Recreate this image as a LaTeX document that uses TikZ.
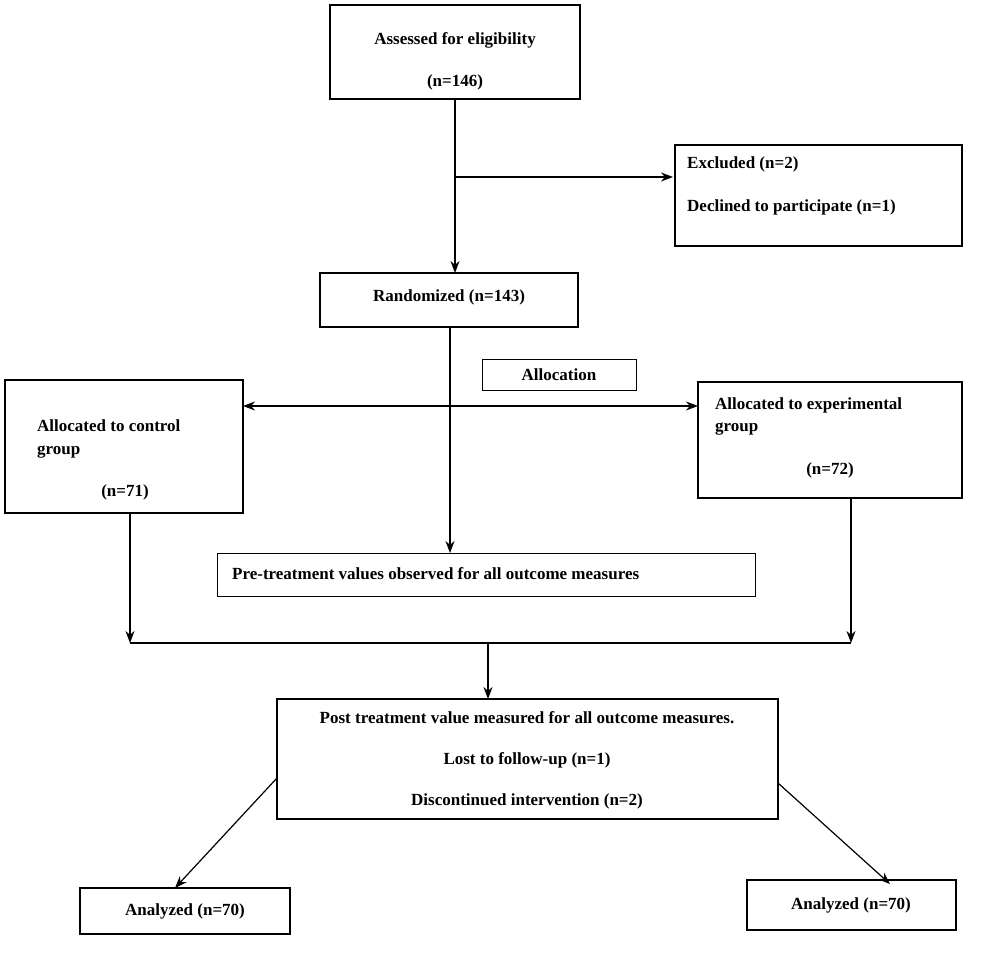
\documentclass[tikz,border=0pt]{standalone}
\usepackage{fontspec}
\setmainfont{Liberation Serif}
\usetikzlibrary{arrows.meta}
\begin{document}
\begin{tikzpicture}[x=1pt,y=-1pt,
  box/.style={draw,line width=1.6pt},
  t/.style={font=\bfseries\fontsize{17}{20}\selectfont,inner sep=0pt},
  arr/.style={-{Stealth[length=12pt,width=9pt]},line width=1.2pt},
  ln/.style={line width=1.2pt}]
\useasboundingbox (0,0) rectangle (986,965);
\draw[box] (330,5) rectangle (580,99);
\node[t] (ass1) at (455,40) {Assessed for eligibility};
\node[t] (ass2) at (455,82) {(n=146)};
\coordinate (assB) at (455,99);
\draw[box] (675,145) rectangle (962,246);
\node[t,anchor=west] (exc1) at (687,164) {Excluded (n=2)};
\node[t,anchor=west] (exc2) at (687,207) {Declined to participate (n=1)};
\coordinate (excL) at (673,177);
\draw[box] (320,273) rectangle (578,327);
\node[t] (rand) at (449,297) {Randomized (n=143)};
\coordinate (randT) at (455,273);
\coordinate (randB) at (450,327);
\draw[box,line width=1pt] (482,360) rectangle (636,391);
\node[t] (alloc) at (559,375) {Allocation};
\draw[box] (5,380) rectangle (243,513);
\node[t,anchor=west] (c1) at (37,426) {Allocated to control};
\node[t,anchor=west] (c2) at (37,452) {group};
\node[t] (c3) at (125,492) {(n=71)};
\draw[box] (698,382) rectangle (962,498);
\node[t,anchor=west] (e1) at (715,405) {Allocated to experimental};
\node[t,anchor=west] (e2) at (715,429) {group};
\node[t] (e3) at (830,470) {(n=72)};
\draw[box,line width=1pt] (217,553) rectangle (755,596);
\node[t,anchor=west] (pre) at (232,574) {Pre-treatment values observed for all outcome measures};
\draw[box] (277,699) rectangle (778,819);
\node[t] (p1) at (527,718) {Post treatment value measured for all outcome measures.};
\node[t] (p2) at (527,760) {Lost to follow-up (n=1)};
\node[t] (p3) at (527,801) {Discontinued intervention (n=2)};
\draw[box] (80,888) rectangle (290,934);
\node[t] (a1) at (185,911) {Analyzed (n=70)};
\draw[box] (747,880) rectangle (956,930);
\node[t] (a2) at (851,905) {Analyzed (n=70)};
% connectors
\coordinate (j1) at (455,177);
\draw[arr] (assB) -- (randT);
\draw[arr] (j1) -- (excL);
\draw[arr] (randB) -- (450,553);
\draw[ln,{Stealth[length=12pt,width=9pt]}-{Stealth[length=12pt,width=9pt]}] (243,406) -- (698,406);
\coordinate (cl) at (130,643);
\coordinate (cr) at (851,643);
\draw[arr] (130,513) -- (cl);
\draw[arr] (851,498) -- (cr);
\draw[ln] (cl) -- (cr);
\draw[arr] (488,643) -- (488,699);
\draw[arr] (277,778) -- (175,888);
\draw[arr] (778,783) -- (890,884);
\end{tikzpicture}
\end{document}
